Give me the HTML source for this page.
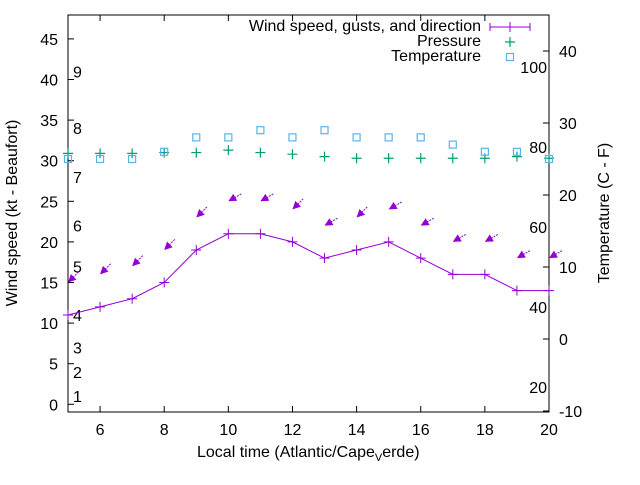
<!DOCTYPE html>
<html><head><meta charset="utf-8"><style>
body{margin:0;background:#fff}
svg{font-family:"Liberation Sans",sans-serif;font-size:16px}
</style></head><body>
<svg id="c" width="640" height="480"></svg>
<script>
const hours=[5,6,7,8,9,10,11,12,13,14,15,16,17,18,19,20];
const wind=[11,12,13,15,19,21,21,20,18,19,20,18,16,16,14,14];
const gusts=[15,16,17,19,23,25,25,24,22,23,24,22,20,20,18,18];
const dirs=[45,45,45,45,45,60,60,45,60,45,60,60,60,60,60,60];
const pressure=[30.9,30.9,30.9,31.0,31.0,31.3,31.0,30.8,30.5,30.3,30.3,30.3,30.3,30.3,30.5,30.3];
const tempC=[25,25,25,26,28,28,29,28,29,28,28,28,27,26,26,25];
const xTicks=[6,8,10,12,14,16,18,20];
const yTicks=[0,5,10,15,20,25,30,35,40,45];
const y2Ticks=[-10,0,10,20,30,40];
const fTicks=[20,40,60,80,100];
const beaufort=[1,2,3,4,5,6,7,8,9];
const beaufortKt=[1,4,7,11,17,22,28,34,41];

const L=68,R=549,T=15,B=412;
const X=v=>L+(v-5)*(R-L)/15;
const Y=v=>404.3-v*8.12;
const Y2=v=>195-(v-20)*7.2;
const svg=document.getElementById('c');
const NS='http://www.w3.org/2000/svg';
function mk(tag,attrs,parent){const e=document.createElementNS(NS,tag);for(const k in attrs)e.setAttribute(k,attrs[k]);(parent||svg).appendChild(e);return e;}
function txt(s,x,y,anchor,name){const t=mk('text',{x:x,y:y,'text-anchor':anchor||'middle',fill:'#000'});t.textContent=s;return t;}

const frame=mk('rect',{x:L,y:T,width:R-L,height:B-T,fill:'none',stroke:'#000','stroke-width':1});



xTicks.forEach(v=>{
  mk('line',{x1:X(v),x2:X(v),y1:B,y2:B-6,stroke:'#000'});
  mk('line',{x1:X(v),x2:X(v),y1:T,y2:T+6,stroke:'#000'});
  txt(String(v),X(v),B+23,'middle','x-tick-label');
});
yTicks.forEach(v=>{
  mk('line',{x1:L,x2:L+6,y1:Y(v),y2:Y(v),stroke:'#000'});
  txt(String(v),L-10,Y(v)+6,'end','y-tick-label');
});
y2Ticks.forEach(v=>{
  mk('line',{x1:R,x2:R-6,y1:Y2(v),y2:Y2(v),stroke:'#000'});
  txt(String(v),R+10,Y2(v)+6,'start','y2-tick-label');
});
fTicks.forEach(f=>{
  txt(String(f),R-2,Y2((f-32)*5/9)+6,'end','fahrenheit-label');
});
beaufort.forEach((b,i)=>{
  txt(String(b),73,Y(beaufortKt[i])+6,'start','beaufort-label');
});

const xt=mk('text',{x:197,y:457,'text-anchor':'start',fill:'#000'});


xt.innerHTML='Local time (Atlantic/Cape<tspan dy="4" font-size="11">V</tspan><tspan dy="-4">erde)</tspan>';
const yl=txt('Wind speed (kt - Beaufort)',0,0,'middle','y-axis-title');
yl.setAttribute('transform','translate(17,213) rotate(-90)');
const yr=txt('Temperature (C - F)',0,0,'middle','y2-axis-title');
yr.setAttribute('transform','translate(609,213) rotate(-90)');

const purple='#9400d3',green='#009e73',blue='#56b4e9';
const pl=mk('polyline',{points:hours.map((h,i)=>X(h)+','+Y(wind[i])).join(' '),fill:'none',stroke:purple,'stroke-width':1});


hours.forEach((h,i)=>{
  const g=mk('path',{d:`M${X(h)-5},${Y(wind[i])}h10M${X(h)},${Y(wind[i])-5}v10`,stroke:purple,'stroke-width':1});
  
  
});
hours.forEach((h,i)=>{
  const tx=X(h),ty=Y(gusts[i]);
  const a=dirs[i]*Math.PI/180,len=15;
  const ux=Math.sin(a),uy=-Math.cos(a);
  const sx=tx+ux*len,sy=ty+uy*len;
  const g=mk('g',{});
  
  
  mk('line',{x1:sx,y1:sy,x2:tx,y2:ty,stroke:purple,'stroke-width':1,'stroke-dasharray':'2,1'},g);
  const hl=8,hw=4;
  const bx=tx+ux*hl,by=ty+uy*hl;
  const px=-uy,py=ux;
  mk('polygon',{points:`${tx},${ty} ${bx+px*hw},${by+py*hw} ${bx-px*hw},${by-py*hw}`,fill:purple},g);
});
hours.forEach((h,i)=>{
  const g=mk('path',{d:`M${X(h)-5},${Y(pressure[i])}h10M${X(h)},${Y(pressure[i])-5}v10`,stroke:green,'stroke-width':1.2});
  
  
});
hours.forEach((h,i)=>{
  const r=mk('rect',{x:X(h)-3.5,y:Y2(tempC[i])-3.5,width:7,height:7,fill:'none',stroke:blue,'stroke-width':1.2});
  
  
});
const lg=mk('g',{});


txt('Wind speed, gusts, and direction',481,31,'end','legend-wind-label');
mk('path',{d:'M490,27h40M490,23v8M530,23v8M510,22v10',stroke:purple,'stroke-width':1},lg);
txt('Pressure',481,46,'end','legend-pressure-label');
mk('path',{d:'M505,42h10M510,37v10',stroke:green,'stroke-width':1.2},lg);
txt('Temperature',481,61,'end','legend-temperature-label');
mk('rect',{x:506.5,y:53.5,width:7,height:7,fill:'none',stroke:blue,'stroke-width':1.2},lg);
</script>
</body></html>
